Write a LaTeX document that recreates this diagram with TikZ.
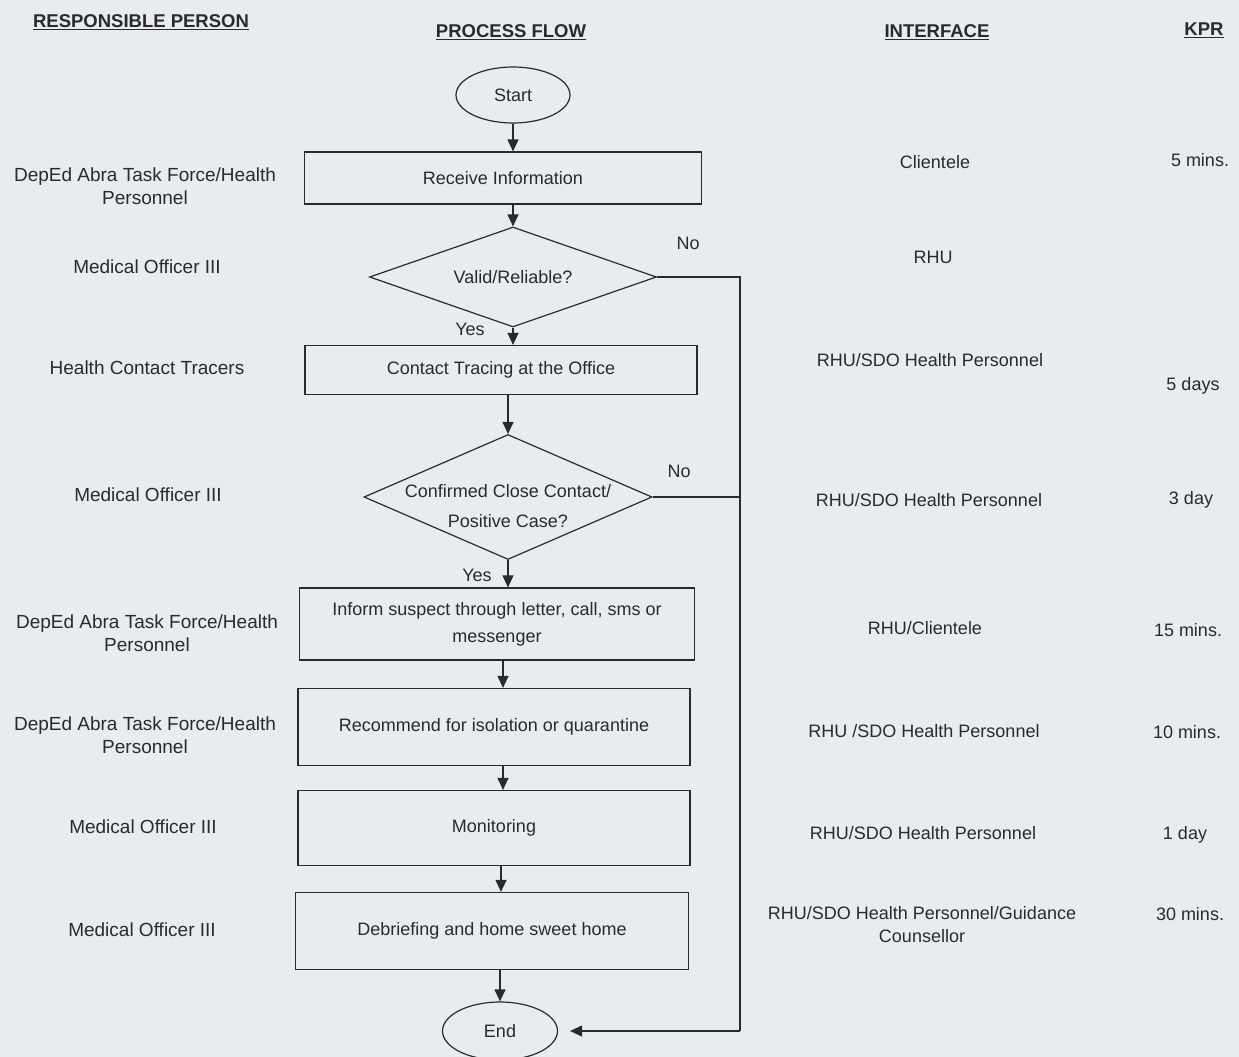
\documentclass[tikz,border=0pt]{standalone}
\usepackage{fontspec}
\setmainfont{Liberation Sans}
\usetikzlibrary{shapes.geometric,arrows.meta}
\definecolor{paper}{HTML}{E9ECEF}
\definecolor{ink}{HTML}{2A2A2A}
\tikzset{
  txt/.style={font=\fontsize{18}{23}\selectfont, text=ink, align=center, inner sep=0pt},
  ltxt/.style={txt, font=\fontsize{19}{23}\selectfont},
  hdr/.style={font=\fontsize{18.5}{23}\selectfont\bfseries, text=ink, inner sep=0pt},
  stepbox/.style={draw=ink, line width=1.2pt, rectangle, txt},
  decision/.style={draw=ink, line width=1.2pt, diamond, aspect=2.3, txt, inner sep=0pt},
  term/.style={draw=ink, line width=1.2pt, ellipse, txt, minimum width=114pt, minimum height=56pt},
  flow/.style={draw=ink, line width=1.2pt},
  arr/.style={flow, -{Triangle[length=12pt,width=11pt]}},
}
\begin{document}
\begin{tikzpicture}[x=1pt,y=-1pt]
\fill[paper] (0,0) rectangle (1239,1057);
\useasboundingbox (0,0) rectangle (1239,1057);

% headers
\node[hdr] (h1) at (141,22) {\underline{RESPONSIBLE PERSON}};
\node[hdr] (h2) at (511,32) {\underline{PROCESS FLOW}};
\node[hdr] (h3) at (937,32) {\underline{INTERFACE}};
\node[hdr] (h4) at (1204,30) {\underline{KPR}};

% flow nodes
\node[term] (start) at (513,95) {Start};
\node[stepbox, minimum width=397pt, minimum height=52pt] (recv) at (503,178) {Receive Information};
\node[decision, minimum width=287pt, minimum height=100pt] (valid) at (513,277) {Valid/Reliable?};
\node[stepbox, minimum width=392pt, minimum height=49pt] (trace) at (501,370) {Contact Tracing at the Office};
\node[decision, minimum width=288pt, minimum height=125pt] (conf) at (508,497) {};
\node[txt, font=\fontsize{18}{30}\selectfont] (conftext) at (508,506) {Confirmed Close Contact/\\Positive Case?};
\node[stepbox, minimum width=395pt, minimum height=72pt, font=\fontsize{18}{27}\selectfont] (inform) at (497,624) {Inform suspect through letter, call, sms or\\messenger};
\node[stepbox, minimum width=392pt, minimum height=77pt] (recom) at (494,727) {Recommend for isolation or quarantine};
\node[stepbox, minimum width=392pt, minimum height=75pt] (monit) at (494,828) {Monitoring};
\node[stepbox, minimum width=393pt, minimum height=77pt] (debrief) at (492,931) {Debriefing and home sweet home};
\node[term, minimum width=115pt, minimum height=58pt] (end) at (500,1031) {End};

% connectors
\draw[arr] (start) -- (start.south |- recv.north);
\draw[arr] (recv.south -| valid.north) -- (valid.north);
\draw[arr] (valid.south) -- (valid.south |- trace.north);
\draw[arr] (trace.south -| conf.north) -- (conf.north);
\draw[arr] (conf.south) -- (conf.south |- inform.north);
\draw[arr] (inform.south -| 503,0) -- (recom.north -| 503,0);
\draw[arr] (recom.south -| 503,0) -- (monit.north -| 503,0);
\draw[arr] (monit.south -| 501,0) -- (debrief.north -| 501,0);
\draw[arr] (debrief.south -| end.north) -- (end.north);

\coordinate (nocorner) at (740,277);
\coordinate (nobottom) at (740,1031);
\draw[flow] (valid.east) -- (nocorner) -- (nobottom);
\draw[arr, shorten >=12pt] (nobottom) -- (end.east);
\draw[flow] (conf.east) -- (conf.east -| nocorner);

\node[txt] (no1) at (688,243) {No};
\node[txt] (yes1) at (470,329) {Yes};
\node[txt] (no2) at (679,471) {No};
\node[txt] (yes2) at (477,575) {Yes};

% responsible person
\node[ltxt] (p1) at (145,186) {DepEd Abra Task Force/Health\\Personnel};
\node[ltxt] (p2) at (147,267) {Medical Officer III};
\node[ltxt] (p3) at (147,368) {Health Contact Tracers};
\node[ltxt] (p4) at (148,495) {Medical Officer III};
\node[ltxt] (p5) at (147,633) {DepEd Abra Task Force/Health\\Personnel};
\node[ltxt] (p6) at (145,735) {DepEd Abra Task Force/Health\\Personnel};
\node[ltxt] (p7) at (143,827) {Medical Officer III};
\node[ltxt] (p8) at (142,930) {Medical Officer III};

% interface
\node[txt] (i1) at (935,162) {Clientele};
\node[txt] (i2) at (933,257) {RHU};
\node[txt] (i3) at (930,360) {RHU/SDO Health Personnel};
\node[txt] (i4) at (929,500) {RHU/SDO Health Personnel};
\node[txt] (i5) at (925,628) {RHU/Clientele};
\node[txt] (i6) at (924,731) {RHU /SDO Health Personnel};
\node[txt] (i7) at (923,833) {RHU/SDO Health Personnel};
\node[txt] (i8) at (922,925) {RHU/SDO Health Personnel/Guidance\\Counsellor};

% KPR
\node[txt] (k1) at (1200,160) {5 mins.};
\node[txt] (k2) at (1193,386) {5 days};
\node[txt] (k3) at (1191,500) {3 day};
\node[txt] (k4) at (1188,630) {15 mins.};
\node[txt] (k5) at (1187,732) {10 mins.};
\node[txt] (k6) at (1185,835) {1 day};
\node[txt] (k7) at (1190,914) {30 mins.};
\end{tikzpicture}
\end{document}
